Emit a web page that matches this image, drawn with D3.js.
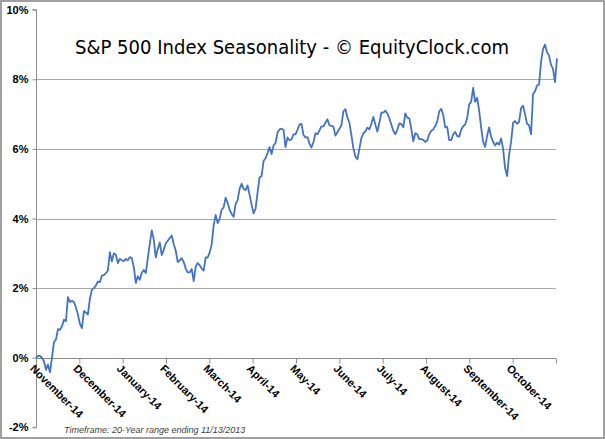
<!DOCTYPE html>
<html><head><meta charset="utf-8">
<script src="https://cdn.jsdelivr.net/npm/d3@7"></script>
<style>html,body{margin:0;padding:0;background:#fff;}svg{display:block;}</style>
</head><body>
<svg id="chart" width="605" height="439"></svg>
<script>
const title = "S&P 500 Index Seasonality - \u00A9 EquityClock.com";
const footnote = "Timeframe: 20-Year range ending 11/13/2013";
const monthLabels = ["November-14","December-14","January-14","February-14","March-14","April-14","May-14","June-14","July-14","August-14","September-14","October-14"];
const yTicks = [-2,0,2,4,6,8,10];
const gridValues = [2,4,6,8];
// seasonal cumulative return (%), roughly one reading per trading day
const seasonal = [
0.00,0.05,0.05,0.00,-0.10,-0.35,-0.20,-0.42,0.00,0.45,0.52,0.82,0.80,0.90,1.09,1.05,1.74,1.60,1.64,1.60,
1.45,1.24,0.97,0.85,1.34,1.30,1.24,1.70,1.95,2.00,2.07,2.19,2.17,2.36,2.37,2.43,2.50,3.03,2.77,3.00,
2.96,2.72,2.84,2.80,2.77,2.84,2.80,2.89,2.86,2.60,2.15,2.34,2.24,2.44,2.52,2.43,2.85,3.27,3.66,3.40,
2.88,3.12,3.31,2.95,3.10,3.28,3.36,3.44,3.51,3.26,3.08,2.75,2.80,2.86,2.75,2.56,2.45,2.45,2.55,2.20,
2.62,2.72,2.66,2.56,2.50,2.88,2.88,3.02,3.25,3.80,4.10,3.87,3.99,4.25,4.32,4.60,4.45,4.25,4.13,4.05,
4.42,4.53,4.85,5.00,4.85,4.82,4.95,4.68,4.40,4.15,4.28,4.75,5.18,5.22,5.65,5.73,5.88,6.05,5.85,6.10,
6.17,6.47,6.56,6.58,6.55,6.05,6.33,6.25,6.27,6.42,6.42,6.55,6.70,6.72,6.40,6.33,6.34,6.15,6.04,6.20,
6.45,6.42,6.53,6.65,6.65,6.75,6.85,6.68,6.66,6.64,6.38,6.48,6.58,6.68,7.08,7.14,6.90,6.75,6.40,6.02,
5.78,5.70,6.00,6.31,6.45,6.50,6.61,6.56,6.72,6.92,6.70,6.50,6.75,7.04,7.04,7.10,7.02,6.88,6.70,6.52,
6.42,6.55,6.73,6.72,6.62,7.02,6.90,6.88,6.58,6.22,6.45,6.42,6.28,6.28,6.26,6.20,6.24,6.42,6.52,6.56,
6.66,6.78,7.08,7.15,6.98,6.62,6.63,6.25,6.25,6.42,6.49,6.37,6.35,6.55,6.65,6.70,6.88,7.28,7.35,7.75,
7.35,7.47,7.10,6.62,6.20,6.06,6.38,6.62,6.35,6.20,6.10,6.18,6.12,6.30,6.00,5.45,5.22,5.83,6.20,6.75,
6.80,6.72,6.78,7.17,7.24,7.00,6.72,6.68,6.42,7.58,7.66,7.82,7.85,8.50,8.87,9.00,8.78,8.68,8.42,8.30,
7.92,8.60
];

const svg = d3.select("#chart");
const plotL = 36, plotR = 556, plotT = 9.7, plotB = 427.3;

svg.append("rect").attr("x",1).attr("y",1).attr("width",603).attr("height",437)
  .attr("fill","#fff").attr("stroke","#a0a0a0").attr("stroke-width",2);

const y = d3.scaleLinear().domain([-2,10]).range([plotB,plotT]);
const xm = d3.scaleLinear().domain([0,12]).range([plotL,plotR]);
const xd = d3.scaleLinear().domain([0,seasonal.length-1]).range([plotL,plotR+1]);

// gridlines
svg.append("g").selectAll("line").data(gridValues).join("line")
  .attr("x1",plotL).attr("x2",plotR)
  .attr("y1",d=>Math.round(y(d))+0.5).attr("y2",d=>Math.round(y(d))+0.5)
  .attr("stroke","#a8a8a8").attr("stroke-width",1);

// y axis
const yAxis = d3.axisLeft(y).tickValues(yTicks).tickSize(4).tickPadding(4).tickFormat(d=>d+"%");
const gy = svg.append("g").attr("transform",`translate(${plotL+0.5},0)`).call(yAxis);
gy.select(".domain").attr("stroke","#8c8c8c").attr("d",`M-4,${y(10)}H0V${y(-2)}H-4`);
gy.selectAll(".tick line").attr("stroke","#8c8c8c");
gy.selectAll(".tick text").attr("font-family","'Liberation Sans', Arial, sans-serif")
  .attr("font-size","11px").attr("font-weight","bold").attr("fill","#000");

// x axis at 0%
const xAxis = d3.axisBottom(xm).tickValues(d3.range(0,13)).tickSize(5).tickFormat("");
const gx = svg.append("g").attr("transform",`translate(0,${Math.round(y(0))+0.5})`).call(xAxis);
gx.select(".domain").attr("stroke","#8c8c8c").attr("d",`M${plotL},0H${plotR}`);
gx.selectAll(".tick line").attr("stroke","#8c8c8c");

// month labels
svg.append("g").selectAll("text").data(monthLabels).join("text")
  .attr("transform",(d,i)=>`translate(${xm(i)-1},${y(0)+6}) rotate(45)`)
  .attr("dy","0.72em")
  .attr("font-family","'Liberation Sans', Arial, sans-serif")
  .attr("font-size","11px").attr("font-weight","bold").attr("fill","#000")
  .text(d=>d);

// line
const line = d3.line().x((d,i)=>xd(i)).y(d=>y(d));
svg.append("path").datum(seasonal).attr("d",line)
  .attr("fill","none").attr("stroke","#4472C4").attr("stroke-width",1.8)
  .attr("stroke-linejoin","round");

// title
svg.append("text").attr("x",75).attr("y",54).attr("textLength",434).attr("lengthAdjust","spacingAndGlyphs")
  .attr("font-family","'DejaVu Sans', Verdana, sans-serif").attr("font-size","19px").attr("fill","#000")
  .text(title);

// footnote
svg.append("text").attr("x",64).attr("y",433)
  .attr("font-family","'Liberation Sans', Arial, sans-serif").attr("font-size","9px")
  .attr("font-style","italic").attr("fill","#404040").text(footnote);
</script>
</body></html>
